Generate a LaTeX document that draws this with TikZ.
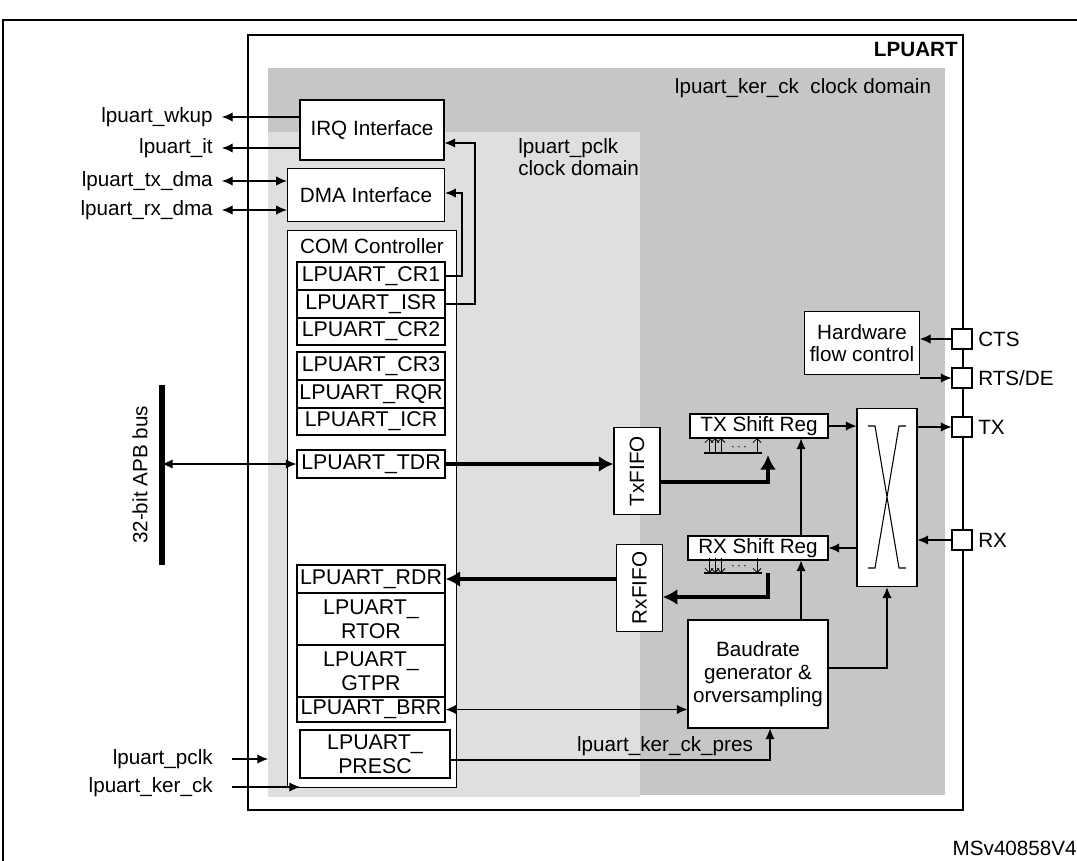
\documentclass[tikz,border=0pt]{standalone}
\usepackage{fontspec}
\setmainfont{Liberation Sans}
\usetikzlibrary{arrows.meta}
\begin{document}
\begin{tikzpicture}[x=0.75pt,y=-0.75pt,
  every node/.style={font=\fontsize{15.5}{17}\selectfont,inner sep=0pt},
  box/.style={draw,fill=white,line width=0.8pt},
  reg/.style={draw,fill=white,line width=0.8pt,align=center,font=\fontsize{16}{18}\selectfont},
  ln/.style={line width=0.8pt,-{Latex[length=8pt,width=7pt]}},
  dl/.style={line width=0.8pt,{Latex[length=8pt,width=7pt]}-{Latex[length=8pt,width=7pt]}},
  thick/.style={line width=2.6pt,-{Latex[length=11pt,width=12pt]}},
  pin/.style={draw,fill=white,line width=0.8pt,minimum size=15pt}]
\useasboundingbox (0,0) rectangle (1077,860);
\begin{scope}
\clip (0,0) rectangle (1077,860);
\draw[line width=1pt] (3,20) rectangle (1085,880);
\end{scope}
\draw[line width=1.2pt] (248,35) rectangle (963,810);
\fill[gray!45] (268,68) rectangle (945,795);
\fill[gray!25] (268,132) rectangle (640,797);
\node[anchor=north east,font=\bfseries\fontsize{15.5}{17}\selectfont] at (958,42) {LPUART};
\node at (803,88) {lpuart\_ker\_ck\ \ clock domain};
\node[align=left,anchor=north west] at (518,138) {lpuart\_pclk\\clock domain};
% boxes
\node[box,minimum width=108pt,minimum height=45pt] (irq) at (372,130) {IRQ Interface};
\node[box,minimum width=118pt,minimum height=40pt] (dma) at (366,195) {DMA Interface};
\node[box,minimum width=127pt,minimum height=418pt] (com) at (372,509) {};
\node[anchor=north] at (372,238) {COM Controller};
\foreach \n/\t/\y/\h in {cr1/LPUART\_CR1/276/28,isr/LPUART\_ISR/304/28,cr2/LPUART\_CR2/331.5/27,
  cr3/LPUART\_CR3/366/28,rqr/LPUART\_RQR/394/28,icr/LPUART\_ICR/421.5/27,tdr/LPUART\_TDR/464/28,
  rdr/LPUART\_RDR/579/28,rtor/{LPUART\_\\RTOR}/619/52,gtpr/{LPUART\_\\GTPR}/671/52,brr/LPUART\_BRR/709.5/25}
  \node[reg,minimum width=111pt,minimum height=\h*0.75pt] (\n) at (371,\y) {\t};
\node[reg,minimum width=112.5pt,minimum height=36pt] (presc) at (375,754) {LPUART\_\\PRESC};
\node[box,minimum width=34.5pt,minimum height=65pt] (txf) at (637,471) {\rotatebox{90}{TxFIFO}};
\node[box,minimum width=34pt,minimum height=65pt] (rxf) at (639.5,588) {\rotatebox{90}{RxFIFO}};
\node[box,minimum width=103.5pt,minimum height=18pt] (txs) at (759,426) {TX Shift Reg};
\node[box,minimum width=105pt,minimum height=18pt] (rxs) at (758,548) {RX Shift Reg};
\node[box,minimum width=86pt,minimum height=47pt,align=center] (hfc) at (862,343) {Hardware\\flow control};
\node[box,minimum width=45pt,minimum height=134pt] (mux) at (887,497.5) {};
\draw[line width=0.8pt] (868,426)--(875,426)--(899,568)--(906,568) (868,568)--(875,568)--(899,426)--(906,426);
\node[box,minimum width=105pt,minimum height=81pt,align=center] (baud) at (758,674) {Baudrate\\generator \&\\orversampling};
% pins
\foreach \n/\y/\t in {cts/339/CTS,rts/378/{RTS/DE},tx/427/TX,rx/540/RX}{
  \node[pin] (\n) at (962,\y) {};
  \node[anchor=west] at (978,\y) {\t};}
\draw[ln] (cts) -- (hfc.east|-cts);
\draw[ln] (hfc.east|-rts) -- (rts);
\draw[ln] (mux.east|-tx) -- (tx);
\draw[ln] (rx) -- (mux.east|-rx);
\draw[ln] (txs.east) -- (mux.west|-txs.east);
\draw[ln] (mux.west|-rxs.east) -- (rxs.east);
% bus
\draw[line width=4pt] (162,385) -- (162,565);
\node[rotate=90] at (140,475) {32-bit APB bus};
\coordinate (busT) at (162,464);
\draw[dl] (busT) -- (tdr.west);
% left signals
\foreach \t/\y in {lpuart\_wkup/117,lpuart\_it/148,lpuart\_tx\_dma/181,lpuart\_rx\_dma/210,lpuart\_pclk/759,lpuart\_ker\_ck/787}
  \node[anchor=east] at (213,\y) {\t};
\coordinate (wk) at (222,117); \coordinate (it) at (222,148);
\coordinate (txd) at (222,181); \coordinate (rxd) at (222,210);
\coordinate (pc) at (232,759); \coordinate (kc) at (232,787);
\draw[ln] (irq.west|-wk) -- (wk);
\draw[ln] (irq.west|-it) -- (it);
\draw[dl] (txd) -- (dma.west|-txd);
\draw[dl] (rxd) -- (dma.west|-rxd);
\draw[ln] (pc) -- (268,759);
\draw[ln] (kc) -- (300,787);
% feedback
\draw[ln] (cr1.east) -- (462,276) -- (462,193) -- (dma.east|-0,193);
\draw[ln] (isr.east) -- (475,304) -- (475,143) -- (irq.east|-0,143);
% data paths
\draw[thick] (tdr.east) -- (txf.west|-tdr.east);
\draw[thick] (txf.east|-0,482) -- (768,482) -- (768,455);
\draw[thick] (rxf.west|-rdr.east) -- (rdr.east);
\draw[thick] (768,573) -- (768,597) -- (rxf.east|-0,597);
\draw[line width=1.2pt] (704,453)--(762,453) (704,573)--(762,573);
\foreach \x in {709,715,721,757}{
  \draw[line width=0.6pt,-{Straight Barb[length=3pt]}] (\x,453)--(\x,438);
  \draw[line width=0.6pt,-{Straight Barb[length=3pt]}] (\x,558)--(\x,573);}
\node[font=\fontsize{10}{10}\selectfont] at (739,448) {$\cdots$};
\node[font=\fontsize{10}{10}\selectfont] at (739,567) {$\cdots$};
\draw[ln] (rxs.north-|801,0) -- (txs.south-|801,0);
\draw[ln] (baud.north-|801,0) -- (rxs.south-|801,0);
\draw[ln] (baud.east|-0,668) -- (887,668) -- (mux.south);
\draw[dl] (brr.east) -- (baud.west|-brr.east);
\draw[ln] (presc.east|-0,760) -- (770,760) -- (baud.south-|770,0);
\node[anchor=south] at (665,756) {lpuart\_ker\_ck\_pres};
\node[anchor=east] at (1077,848) {MSv40858V4};
\end{tikzpicture}
\end{document}
